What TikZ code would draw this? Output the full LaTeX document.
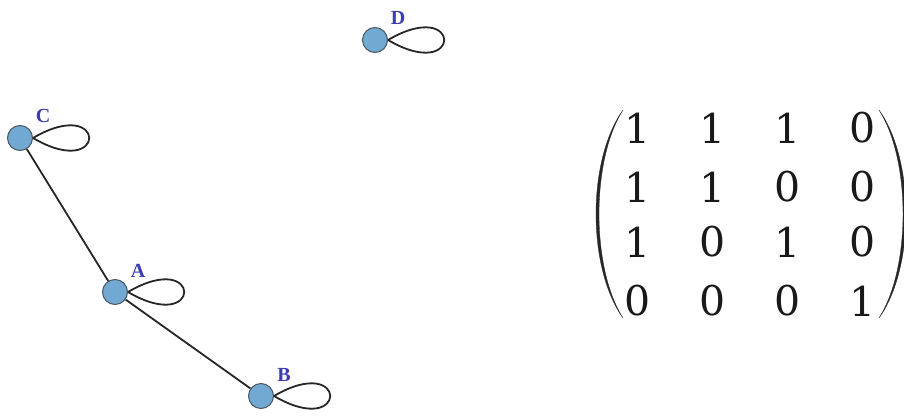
\documentclass[tikz,border=0pt]{standalone}
\usepackage{fontspec}
\setmainfont{Liberation Serif}
\newfontfamily\digitfont{DejaVu Serif}
\definecolor{vfill}{HTML}{72A9D2}
\definecolor{vdraw}{HTML}{4A5560}
\definecolor{vlabel}{HTML}{3C3CB4}
\tikzset{
  vertex/.style={circle, fill=vfill, draw=vdraw, line width=1pt, minimum size=25pt, inner sep=0pt},
  vname/.style={text=vlabel, font=\fontsize{20}{20}\selectfont\bfseries, inner sep=0pt},
  selfloop/.style={draw=black!85, line width=1.8pt},
  link/.style={draw=black!85, line width=1.8pt},
  entry/.style={font=\digitfont\fontsize{41}{41}\selectfont, inner sep=0pt, text=black!90},
  paren/.style={fill=black!85, draw=black!85, line width=0.3pt}
}
\newcommand{\selfloopat}[1]{\draw[selfloop] (#1.east) .. controls +(75,-44) and +(75,44) .. (#1.east);}
\begin{document}
\begin{tikzpicture}[x=1pt,y=-1pt]
  \useasboundingbox (0,0) rectangle (904,417);
  % vertices
  \node[vertex] (D) at (375,40) {};
  \node[vertex] (C) at (20,138) {};
  \node[vertex] (A) at (115,292) {};
  \node[vertex] (B) at (261,396) {};
  % names
  \node[vname] (lD) at (398,18) {D};
  \node[vname] (lC) at (43,116) {C};
  \node[vname] (lA) at (138,271) {A};
  \node[vname] (lB) at (284,375) {B};
  % edges
  \draw[link] (C) -- (A);
  \draw[link] (A) -- (B);
  % self loops
  \selfloopat{D}
  \selfloopat{C}
  \selfloopat{A}
  \selfloopat{B}
  % adjacency matrix entries
  \foreach \r/\y/\a/\b/\c/\d in {1/128/1/1/1/0, 2/187/1/1/0/0, 3/242/1/0/1/0, 4/301/0/0/0/1}{
    \node[entry] (m\r1) at (638,\y) {\a};
    \node[entry] (m\r2) at (713,\y) {\b};
    \node[entry] (m\r3) at (788,\y) {\c};
    \node[entry] (m\r4) at (863,\y) {\d};
  }
  % brackets
  \fill[paren] (623,110) .. controls (587,160) and (587,268) .. (623,318)
               .. controls (591,268) and (591,160) .. (623,110) -- cycle;
  \fill[paren] (879,110) .. controls (915,160) and (915,268) .. (879,318)
               .. controls (911,268) and (911,160) .. (879,110) -- cycle;
\end{tikzpicture}
\end{document}
